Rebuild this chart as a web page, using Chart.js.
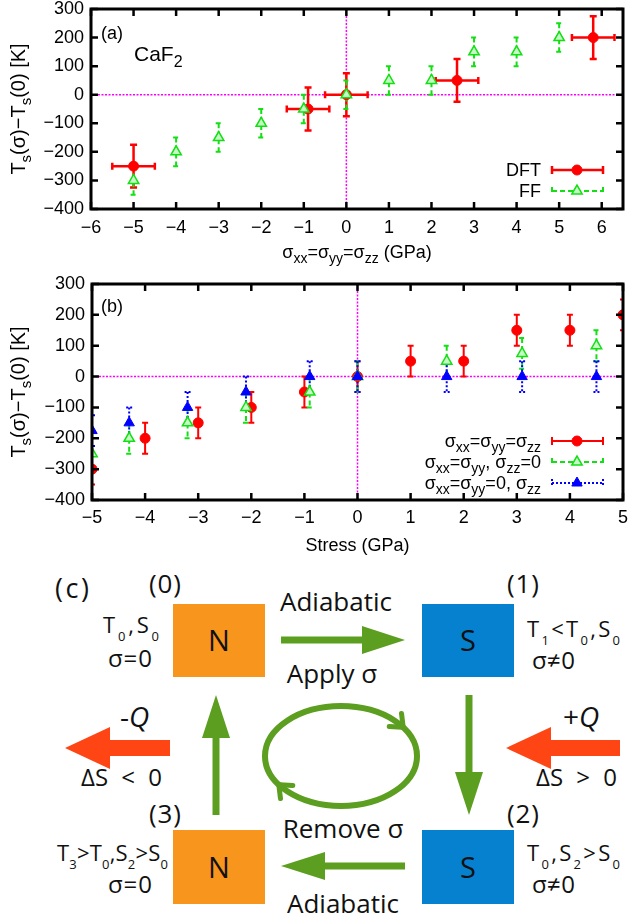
<!DOCTYPE html>
<html lang="en">
<head>
  <meta charset="UTF-8">
  <title>CaF2 stress vs transition temperature</title>
  <style>
    body { margin: 0; background: #fff; }
    #wrap { position: relative; width: 631px; height: 921px; }
    #chartA { position: absolute; left: 0; top: 0; width: 631px; height: 270px; }
    #chartB { position: absolute; left: 0; top: 270px; width: 631px; height: 290px; }
    #cycle { position: absolute; left: 0; top: 560px; }
  </style>
</head>
<body>
  <div id="wrap">
    <canvas id="chartA" width="631" height="270"></canvas>
    <canvas id="chartB" width="631" height="290"></canvas>

    <svg id="cycle" width="631" height="361" font-family="'Open Sans', 'DejaVu Sans', sans-serif" fill="#111">
      <text x="55" y="38" font-size="27" textLength="34" lengthAdjust="spacing">(c)</text>
      <text x="149" y="33" font-size="26" textLength="32" lengthAdjust="spacing">(0)</text>
      <text x="507" y="33" font-size="26" textLength="32" lengthAdjust="spacing">(1)</text>
      <text x="149" y="263" font-size="26" textLength="32" lengthAdjust="spacing">(3)</text>
      <text x="507" y="263" font-size="26" textLength="32" lengthAdjust="spacing">(2)</text>

      <!-- states -->
      <rect x="173" y="44" width="92" height="73" fill="#f8951d"/>
      <rect x="422" y="44" width="92" height="73" fill="#0681d0"/>
      <rect x="173" y="270" width="92" height="74" fill="#f8951d"/>
      <rect x="422" y="270" width="92" height="74" fill="#0681d0"/>
      <text x="219" y="91" font-size="29" text-anchor="middle">N</text>
      <text x="468" y="91" font-size="29" text-anchor="middle">S</text>
      <text x="219" y="318" font-size="29" text-anchor="middle">N</text>
      <text x="468" y="318" font-size="29" text-anchor="middle">S</text>

      <!-- state labels -->
      <text x="103" y="73" font-size="22" textLength="56" lengthAdjust="spacing">T<tspan font-size="13" dy="8">0</tspan><tspan dy="-8">,S</tspan><tspan font-size="13" dy="8">0</tspan></text>
      <text x="108" y="107" font-size="24" textLength="44" lengthAdjust="spacing">σ=0</text>
      <text x="527" y="77" font-size="22" textLength="93" lengthAdjust="spacing">T<tspan font-size="13" dy="8">1</tspan><tspan dy="-8">&lt;T</tspan><tspan font-size="13" dy="8">0</tspan><tspan dy="-8">,S</tspan><tspan font-size="13" dy="8">0</tspan></text>
      <text x="532" y="109" font-size="24" textLength="43" lengthAdjust="spacing">σ≠0</text>
      <text x="57" y="301" font-size="22" textLength="111" lengthAdjust="spacing">T<tspan font-size="13" dy="8">3</tspan><tspan dy="-8">&gt;T</tspan><tspan font-size="13" dy="8">0</tspan><tspan dy="-8">,S</tspan><tspan font-size="13" dy="8">2</tspan><tspan dy="-8">&gt;S</tspan><tspan font-size="13" dy="8">0</tspan></text>
      <text x="108" y="333" font-size="24" textLength="44" lengthAdjust="spacing">σ=0</text>
      <text x="527" y="301" font-size="22" textLength="93" lengthAdjust="spacing">T<tspan font-size="13" dy="8">0</tspan><tspan dy="-8">,S</tspan><tspan font-size="13" dy="8">2</tspan><tspan dy="-8">&gt;S</tspan><tspan font-size="13" dy="8">0</tspan></text>
      <text x="532" y="333" font-size="24" textLength="43" lengthAdjust="spacing">σ≠0</text>

      <!-- process labels -->
      <text x="336" y="51" font-size="26" text-anchor="middle">Adiabatic</text>
      <text x="332" y="123" font-size="26" text-anchor="middle">Apply σ</text>
      <text x="343" y="278" font-size="26" text-anchor="middle">Remove σ</text>
      <text x="343" y="353" font-size="26" text-anchor="middle">Adiabatic</text>

      <!-- green arrows -->
      <g fill="#5b9e20" stroke="#5b9e20">
        <line x1="281" y1="80" x2="365" y2="80" stroke-width="7"/>
        <polygon points="362,66 405,80 362,94" stroke="none"/>
        <line x1="469" y1="135" x2="469" y2="215" stroke-width="7"/>
        <polygon points="455,212 483,212 469,255" stroke="none"/>
        <line x1="405" y1="306" x2="322" y2="306" stroke-width="7"/>
        <polygon points="325,292 325,320 281,306" stroke="none"/>
        <line x1="216" y1="255" x2="216" y2="175" stroke-width="7"/>
        <polygon points="202,178 230,178 216,135" stroke="none"/>
      </g>
      <ellipse cx="341" cy="196" rx="76" ry="50" fill="none" stroke="#5b9e20" stroke-width="6"/>
      <polyline points="280.5,238.6 278.8,224.7 292.8,225.5" fill="none" stroke="#5b9e20" stroke-width="5" stroke-linecap="round"/>
      <polyline points="401.5,153.4 403.2,167.3 389.2,166.5" fill="none" stroke="#5b9e20" stroke-width="5" stroke-linecap="round"/>

      <!-- heat arrows -->
      <g fill="#ff4513">
        <rect x="108" y="180" width="62" height="16"/>
        <polygon points="110,167 110,209 65,188"/>
        <rect x="549" y="180" width="71" height="16"/>
        <polygon points="551,167 551,209 506,188"/>
      </g>
      <text x="120" y="167" font-size="28">-<tspan font-style="italic">Q</tspan></text>
      <text x="563" y="167" font-size="28">+<tspan font-style="italic">Q</tspan></text>
      <text x="81" y="226" font-size="24" word-spacing="7">ΔS &lt; 0</text>
      <text x="536" y="226" font-size="24" word-spacing="7">ΔS &gt; 0</text>
    </svg>
  </div>

  <script src="https://cdn.jsdelivr.net/npm/chart.js"></script>

  <script>
    const FONT = '"Liberation Sans", Arial, Helvetica, sans-serif';

    // axis ticks
    const yTicks = [-400, -300, -200, -100, 0, 100, 200, 300];
    const xTicksA = [-6, -5, -4, -3, -2, -1, 0, 1, 2, 3, 4, 5, 6];
    const xTicksB = [-5, -4, -3, -2, -1, 0, 1, 2, 3, 4, 5];

    // panel (a): hydrostatic stress, DFT vs force field
    const dftX = [-5, -0.9, 0, 2.6, 5.8];
    const dftY = [-250, -50, 0, 50, 200];
    const dftXErr = [0.5, 0.5, 0.5, 0.5, 0.5];
    const dftYErr = [75, 75, 75, 75, 75];
    const ffX = [-5, -4, -3, -2, -1, 0, 1, 2, 3, 4, 5];
    const ffY = [-300, -200, -150, -100, -50, 0, 50, 50, 150, 150, 200];
    const ffYErr = [50, 50, 50, 50, 50, 50, 50, 50, 50, 50, 50];

    // panel (b): different stress conditions
    const hydroX = [-5, -4, -3, -2, -1, 0, 1, 2, 3, 4, 5];
    const hydroY = [-300, -200, -150, -100, -50, 0, 50, 50, 150, 150, 200];
    const hydroYErr = [50, 50, 50, 50, 50, 50, 50, 50, 50, 50, 50];
    const biaxX = [-5, -4.3, -3.2, -2.1, -0.9, 0, 1.68, 3.1, 4.5];
    const biaxY = [-250, -200, -150, -100, -50, 0, 50, 75, 100];
    const biaxYErr = [50, 50, 50, 50, 50, 50, 50, 50, 50];
    const uniaxX = [-5, -4.3, -3.2, -2.1, -0.9, 0, 1.68, 3.1, 4.5];
    const uniaxY = [-175, -150, -100, -50, 0, 0, 0, 0, 0];
    const uniaxYErr = [50, 50, 50, 50, 50, 50, 50, 50, 50];

    // text pieces, [text, isSubscript]
    const yTitle = [['T'], ['s', 1], ['(σ)−T'], ['s', 1], ['(0) [K]']];
    const xTitleA = [['σ'], ['xx', 1], ['=σ'], ['yy', 1], ['=σ'], ['zz', 1], [' (GPa)']];
    const xTitleB = [['Stress (GPa)']];

    const pts = (xs, ys) => xs.map((x, i) => ({ x: x, y: ys[i] }));
    const fmt = v => String(v).replace('-', '\u2212');

    function drawRich(ctx, parts, x, y, size, align) {
      const subSize = Math.round(size * 0.75);
      const widths = parts.map(p => {
        ctx.font = (p[1] ? subSize : size) + 'px ' + FONT;
        return ctx.measureText(p[0]).width;
      });
      const total = widths.reduce((a, b) => a + b, 0);
      let cx = align === 'right' ? x - total : align === 'center' ? x - total / 2 : x;
      ctx.textAlign = 'left';
      ctx.textBaseline = 'alphabetic';
      parts.forEach((p, i) => {
        ctx.font = (p[1] ? subSize : size) + 'px ' + FONT;
        ctx.fillText(p[0], cx, p[1] ? y + size * 0.3 : y);
        cx += widths[i];
      });
    }

    // zero lines + error bars, under the markers
    const errorBars = {
      id: 'errorBars',
      beforeDatasetsDraw(chart) {
        const { ctx, chartArea: a } = chart;
        const sx = chart.scales.x, sy = chart.scales.y;
        ctx.save();
        ctx.beginPath();
        ctx.rect(a.left, a.top, a.right - a.left, a.bottom - a.top);
        ctx.clip();

        ctx.strokeStyle = '#ff00ff';
        ctx.lineWidth = 1.5;
        ctx.setLineDash([2, 1.5]);
        const x0 = sx.getPixelForValue(0), y0 = sy.getPixelForValue(0);
        ctx.beginPath();
        ctx.moveTo(x0, a.top); ctx.lineTo(x0, a.bottom);
        ctx.moveTo(a.left, y0); ctx.lineTo(a.right, y0);
        ctx.stroke();

        chart.data.datasets.forEach(ds => {
          ctx.strokeStyle = ds.pointBorderColor;
          ctx.lineWidth = ds.errWidth;
          ctx.setLineDash(ds.errDash);
          const cap = ds.capSize;
          ds.data.forEach((p, j) => {
            const px = sx.getPixelForValue(p.x), py = sy.getPixelForValue(p.y);
            ctx.beginPath();
            if (ds.yErr) {
              const t = sy.getPixelForValue(p.y + ds.yErr[j]);
              const b = sy.getPixelForValue(p.y - ds.yErr[j]);
              ctx.moveTo(px, t); ctx.lineTo(px, b);
              ctx.moveTo(px - cap, t); ctx.lineTo(px + cap, t);
              ctx.moveTo(px - cap, b); ctx.lineTo(px + cap, b);
            }
            if (ds.xErr) {
              const l = sx.getPixelForValue(p.x - ds.xErr[j]);
              const r = sx.getPixelForValue(p.x + ds.xErr[j]);
              ctx.moveTo(l, py); ctx.lineTo(r, py);
              ctx.moveTo(l, py - cap); ctx.lineTo(l, py + cap);
              ctx.moveTo(r, py - cap); ctx.lineTo(r, py + cap);
            }
            ctx.stroke();
          });
        });
        ctx.restore();
      }
    };

    // frame, inward ticks, titles, labels, legend
    function makeDecor(cfg) {
      return {
        id: 'decor',
        afterDraw(chart) {
          const { ctx, chartArea: a } = chart;
          const sx = chart.scales.x, sy = chart.scales.y;
          ctx.save();
          ctx.strokeStyle = '#000';
          ctx.fillStyle = '#000';
          ctx.setLineDash([]);
          ctx.lineWidth = 2.5;
          ctx.beginPath();
          cfg.xTicks.forEach(v => {
            const px = sx.getPixelForValue(v);
            ctx.moveTo(px, a.bottom); ctx.lineTo(px, a.bottom - 7);
            ctx.moveTo(px, a.top); ctx.lineTo(px, a.top + 7);
          });
          yTicks.forEach(v => {
            const py = sy.getPixelForValue(v);
            ctx.moveTo(a.left, py); ctx.lineTo(a.left + 7, py);
            ctx.moveTo(a.right, py); ctx.lineTo(a.right - 7, py);
          });
          ctx.stroke();
          ctx.lineWidth = 3;
          ctx.strokeRect(a.left, a.top, a.right - a.left, a.bottom - a.top);

          drawRich(ctx, cfg.xTitle, (a.left + a.right) / 2, cfg.xTitleY, 18, 'center');
          ctx.save();
          ctx.translate(25, (a.top + a.bottom) / 2);
          ctx.rotate(-Math.PI / 2);
          drawRich(ctx, yTitle, 0, 0, 20, 'center');
          ctx.restore();

          cfg.labels.forEach(l => drawRich(ctx, l.parts, l.x, l.y, l.size, 'left'));

          chart.data.datasets.forEach((ds, i) => {
            const ly = cfg.legendY[i];
            ctx.fillStyle = '#000';
            drawRich(ctx, ds.legendParts, 541, ly + 6, 18, 'right');
            ctx.strokeStyle = ds.pointBorderColor;
            ctx.lineWidth = ds.errWidth;
            ctx.setLineDash(ds.errDash);
            ctx.beginPath();
            ctx.moveTo(552, ly); ctx.lineTo(603, ly);
            ctx.moveTo(552, ly - 4); ctx.lineTo(552, ly + 4);
            ctx.moveTo(603, ly - 4); ctx.lineTo(603, ly + 4);
            ctx.stroke();
            ctx.setLineDash([]);
            ctx.fillStyle = ds.pointBackgroundColor;
            ctx.lineWidth = ds.pointBorderWidth;
            Chart.helpers.drawPoint(ctx, {
              pointStyle: ds.pointStyle, radius: ds.pointRadius,
              borderWidth: ds.pointBorderWidth, rotation: 0
            }, 577, ly);
          });
          ctx.restore();
        }
      };
    }

    function makeOptions(xMin, xMax, xTicks, yWidth, xHeight, padTop, labelPad) {
      return {
        responsive: false,
        animation: false,
        devicePixelRatio: 1,
        layout: { padding: { top: padTop, right: 8, left: 0, bottom: 0 } },
        plugins: { legend: { display: false }, tooltip: { enabled: false } },
        scales: {
          x: {
            type: 'linear', min: xMin, max: xMax,
            afterBuildTicks: s => { s.ticks = xTicks.map(v => ({ value: v })); },
            afterFit: s => { s.height = xHeight; s.paddingLeft = 0; s.paddingRight = 0; },
            grid: { display: false, drawTicks: false },
            border: { display: false },
            ticks: {
              color: '#000', font: { family: FONT, size: 18 }, padding: labelPad,
              autoSkip: false, maxRotation: 0, callback: fmt
            }
          },
          y: {
            type: 'linear', min: -400, max: 300,
            afterBuildTicks: s => { s.ticks = yTicks.map(v => ({ value: v })); },
            afterFit: s => { s.width = yWidth; s.paddingTop = 0; s.paddingBottom = 0; },
            grid: { display: false, drawTicks: false },
            border: { display: false },
            ticks: { color: '#000', font: { family: FONT, size: 18 }, padding: 7, callback: fmt }
          }
        }
      };
    }

    const RED = '#ff0000', GREEN = '#13e013', BLUE = '#0000ff';

    new Chart(document.getElementById('chartA'), {
      type: 'scatter',
      data: {
        datasets: [{
          label: 'DFT',
          legendParts: [['DFT']],
          data: pts(dftX, dftY),
          xErr: dftXErr, yErr: dftYErr,
          errWidth: 2.5, errDash: [], capSize: 3.5,
          pointStyle: 'circle', pointRadius: 5, pointBorderWidth: 1,
          pointBackgroundColor: RED, pointBorderColor: RED,
          order: 2
        }, {
          label: 'FF',
          legendParts: [['FF']],
          data: pts(ffX, ffY),
          yErr: ffYErr,
          errWidth: 2, errDash: [5, 3], capSize: 3,
          pointStyle: 'triangle', pointRadius: 6, pointBorderWidth: 1.5,
          pointBackgroundColor: '#c8f8c8', pointBorderColor: GREEN,
          order: 1
        }]
      },
      options: makeOptions(-6, 6.5, xTicksA, 91, 61, 9, 8),
      plugins: [errorBars, makeDecor({
        xTicks: xTicksA, xTitle: xTitleA, xTitleY: 258,
        legendY: [170, 191],
        labels: [
          { parts: [['(a)']], x: 101, y: 39, size: 18 },
          { parts: [['CaF'], ['2', 1]], x: 134, y: 61, size: 21 }
        ]
      })]
    });

    new Chart(document.getElementById('chartB'), {
      type: 'scatter',
      data: {
        datasets: [{
          label: 'sxx=syy=szz',
          legendParts: [['σ'], ['xx', 1], ['=σ'], ['yy', 1], ['=σ'], ['zz', 1]],
          data: pts(hydroX, hydroY),
          yErr: hydroYErr,
          errWidth: 2, errDash: [], capSize: 3,
          pointStyle: 'circle', pointRadius: 5, pointBorderWidth: 1,
          pointBackgroundColor: RED, pointBorderColor: RED,
          order: 3
        }, {
          label: 'sxx=syy, szz=0',
          legendParts: [['σ'], ['xx', 1], ['=σ'], ['yy', 1], [', σ'], ['zz', 1], ['=0']],
          data: pts(biaxX, biaxY),
          yErr: biaxYErr,
          errWidth: 2, errDash: [5, 3], capSize: 3,
          pointStyle: 'triangle', pointRadius: 6, pointBorderWidth: 1.5,
          pointBackgroundColor: '#c8f8c8', pointBorderColor: GREEN,
          order: 2
        }, {
          label: 'sxx=syy=0, szz',
          legendParts: [['σ'], ['xx', 1], ['=σ'], ['yy', 1], ['=0, σ'], ['zz', 1]],
          data: pts(uniaxX, uniaxY),
          yErr: uniaxYErr,
          errWidth: 2, errDash: [2, 2], capSize: 3,
          pointStyle: 'triangle', pointRadius: 6, pointBorderWidth: 1,
          pointBackgroundColor: BLUE, pointBorderColor: BLUE,
          order: 1
        }]
      },
      options: makeOptions(-5, 5, xTicksB, 92, 60, 14, 7),
      plugins: [errorBars, makeDecor({
        xTicks: xTicksB, xTitle: xTitleB, xTitleY: 281,
        legendY: [171, 192, 213],
        labels: [
          { parts: [['(b)']], x: 101, y: 42, size: 18 }
        ]
      })]
    });
  </script>
</body>
</html>
